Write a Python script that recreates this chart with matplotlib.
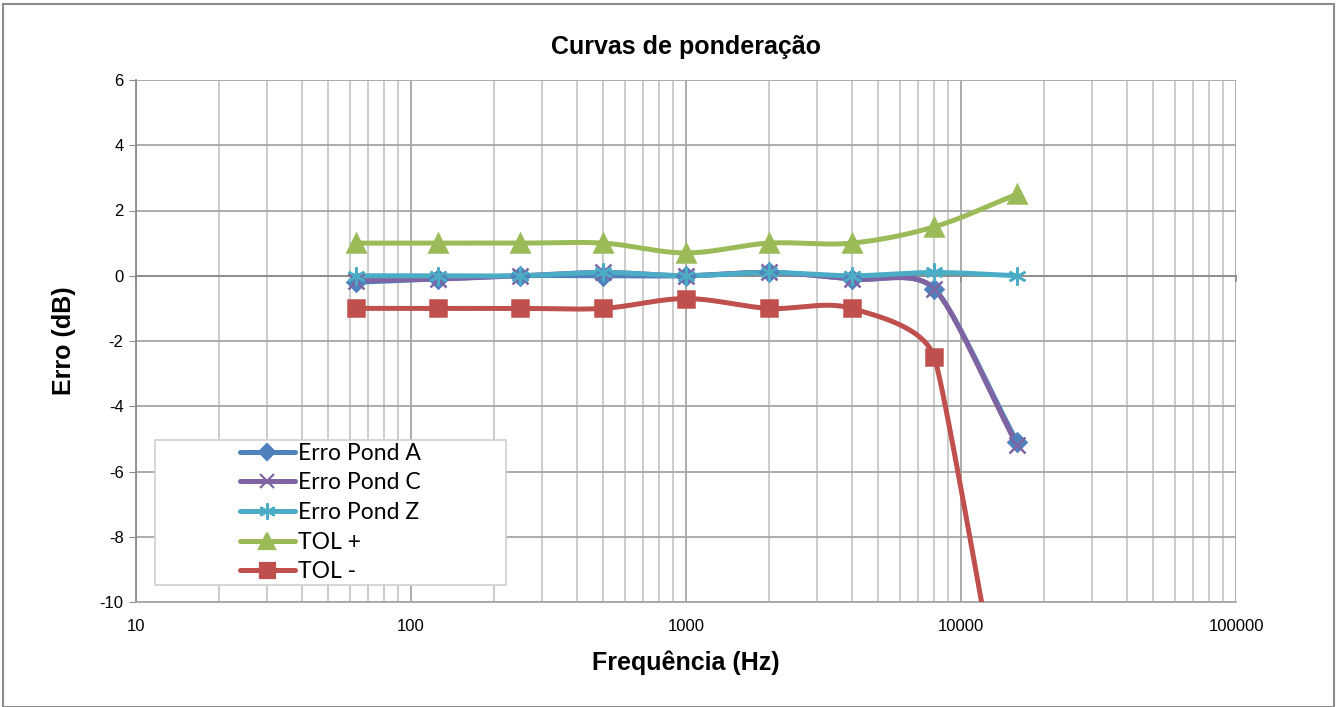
import numpy as np
import matplotlib
matplotlib.use("Agg")
import matplotlib.pyplot as plt
from matplotlib.patches import Rectangle
from matplotlib.lines import Line2D

# data
freq = [63, 125, 250, 500, 1000, 2000, 4000, 8000, 16000]
erro_a = [-0.2, -0.1, 0.0, 0.0, 0.0, 0.1, -0.1, -0.4, -5.1]
erro_c = [-0.15, -0.1, 0.0, 0.1, 0.0, 0.1, -0.1, -0.4, -5.2]
erro_z = [0.0, 0.0, 0.0, 0.1, 0.0, 0.1, 0.0, 0.1, 0.0]
tol_mais = [1.0, 1.0, 1.0, 1.0, 0.7, 1.0, 1.0, 1.5, 2.5]
tol_menos = [-1.0, -1.0, -1.0, -1.0, -0.7, -1.0, -1.0, -2.5, -16.0]

xlim = (10, 100000)
ylim = (-10, 6)

fig = plt.figure(figsize=(13.38, 7.07), dpi=100)
ax = fig.add_axes([136 / 1338, 1 - 602 / 707, 1100 / 1338, 522 / 707])

# outer chart border
fig.patches.append(Rectangle((3 / 1338, 0), 1331 / 1338, 703 / 707, transform=fig.transFigure,
                             fill=False, edgecolor="#8c8c8c", linewidth=1.5))

W, H = 1100.0, 522.0


def smooth(xs, ys, n=40, k=1 / 3):
    # Excel-like smoothed line, bezier in screen space
    u = (np.log10(xs) - np.log10(xlim[0])) / (np.log10(xlim[1]) - np.log10(xlim[0])) * W
    v = (np.asarray(ys) - ylim[0]) / (ylim[1] - ylim[0]) * H
    p = np.column_stack([u, v])
    m = len(p)
    seglen = [np.hypot(*(p[i + 1] - p[i])) for i in range(m - 1)]
    dirs = []
    for i in range(m):
        d = p[min(i + 1, m - 1)] - p[max(i - 1, 0)]
        dirs.append(d / np.hypot(*d))
    out = []
    t = np.linspace(0, 1, n)[:, None]
    for i in range(m - 1):
        p1, p2 = p[i], p[i + 1]
        L = seglen[i]
        L1 = min(L, seglen[i - 1]) if i > 0 else L
        L2 = min(L, seglen[i + 1]) if i < m - 2 else L
        c1 = p1 + k * L1 * dirs[i]
        c2 = p2 - k * L2 * dirs[i + 1]
        seg = ((1 - t) ** 3) * p1 + 3 * ((1 - t) ** 2) * t * c1 + 3 * (1 - t) * t ** 2 * c2 + t ** 3 * p2
        out.append(seg if i == 0 else seg[1:])
    out = np.vstack(out)
    xx = 10 ** (out[:, 0] / W * (np.log10(xlim[1]) - np.log10(xlim[0])) + np.log10(xlim[0]))
    yy = out[:, 1] / H * (ylim[1] - ylim[0]) + ylim[0]
    return xx, yy


series = [
    ("Erro Pond A", erro_a, "#4F81BD", "D", 9),
    ("Erro Pond C", erro_c, "#8064A2", "x", 11),
    ("Erro Pond Z", erro_z, "#4BACC6", (6, 2, 0), 13),
    ("TOL +", tol_mais, "#9BBB59", "^", 13),
    ("TOL -", tol_menos, "#C0504D", "s", 12),
]

handles = []
for k, (name, vals, col, mk, ms) in enumerate(series):
    sx, sy = smooth(freq, vals)
    ax.plot(sx, sy, color=col, lw=3.6, solid_capstyle="round", zorder=3 + k * 0.01)
    ax.plot(freq, vals, ls="none", marker=mk, ms=ms, color=col, mec=col, mew=1.8, zorder=5 + k * 0.01)
    handles.append(Line2D([], [], color=col, lw=3.6, marker=mk, ms=ms * 0.9, mec=col, mew=1.6,
                          solid_capstyle="round", label=name))

ax.set_xscale("log")
ax.set_xlim(*xlim)
ax.set_ylim(*ylim)
ax.set_yticks(np.arange(-10, 7, 2))
ax.set_xticks([10, 100, 1000, 10000, 100000])
ax.set_xticklabels(["10", "100", "1000", "10000", "100000"])
ax.set_yticklabels([str(v) for v in range(-10, 7, 2)])
ax.xaxis.set_minor_formatter(matplotlib.ticker.NullFormatter())

ax.grid(True, which="major", axis="both", color="#a6a6a6", lw=1.3, zorder=0)
ax.grid(True, which="minor", axis="x", color="#bfbfbf", lw=1.1, zorder=0)
ax.set_axisbelow(True)
for s in ["top", "right"]:
    ax.spines[s].set_visible(False)
ax.spines["left"].set_color("#8c8c8c")
ax.spines["bottom"].set_color("#a6a6a6")
ax.spines["left"].set_linewidth(1.3)
ax.spines["bottom"].set_linewidth(1.3)
ax.tick_params(axis="y", length=5, color="#8c8c8c", labelsize=12, pad=4)
ax.tick_params(axis="x", which="major", length=0, labelsize=12, pad=12)
ax.tick_params(axis="x", which="minor", length=0)
for lab in ax.get_xticklabels() + ax.get_yticklabels():
    lab.set_fontfamily("Liberation Sans")

# horizontal axis line at y = 0 with its major ticks
ax.axhline(0, color="#8c8c8c", lw=1.3, zorder=1)
for d in [10, 100, 1000, 10000, 100000]:
    ax.plot([d, d], [0, -0.15], color="#8c8c8c", lw=1.3, zorder=1, clip_on=False)

ax.set_title("Curvas de ponderação", fontsize=18, fontweight="bold", family="Liberation Sans", pad=18.5)
ax.set_xlabel("Frequência (Hz)", fontsize=18, fontweight="bold", family="Liberation Sans", labelpad=12)
ax.set_ylabel("Erro (dB)", fontsize=18, fontweight="bold", family="Liberation Sans", labelpad=17)

# legend box
lx0, ly0, lw_, lh_ = (155 - 136) / W, (602 - 585) / H, (506 - 155) / W, (585 - 440) / H
ax.add_patch(Rectangle((lx0, ly0), lw_, lh_, transform=ax.transAxes, facecolor="white",
                       edgecolor="#d0d0d0", lw=1.2, zorder=8))
leg = ax.legend(handles=handles, loc="center", bbox_to_anchor=(lx0, ly0, lw_, lh_),
                frameon=False, prop={"family": "Lato", "size": 16.5}, handlelength=2.4,
                handletextpad=0.15, labelspacing=0.38, borderpad=0.2)
leg.set_zorder(9)

fig.savefig("out.png", dpi=100)
